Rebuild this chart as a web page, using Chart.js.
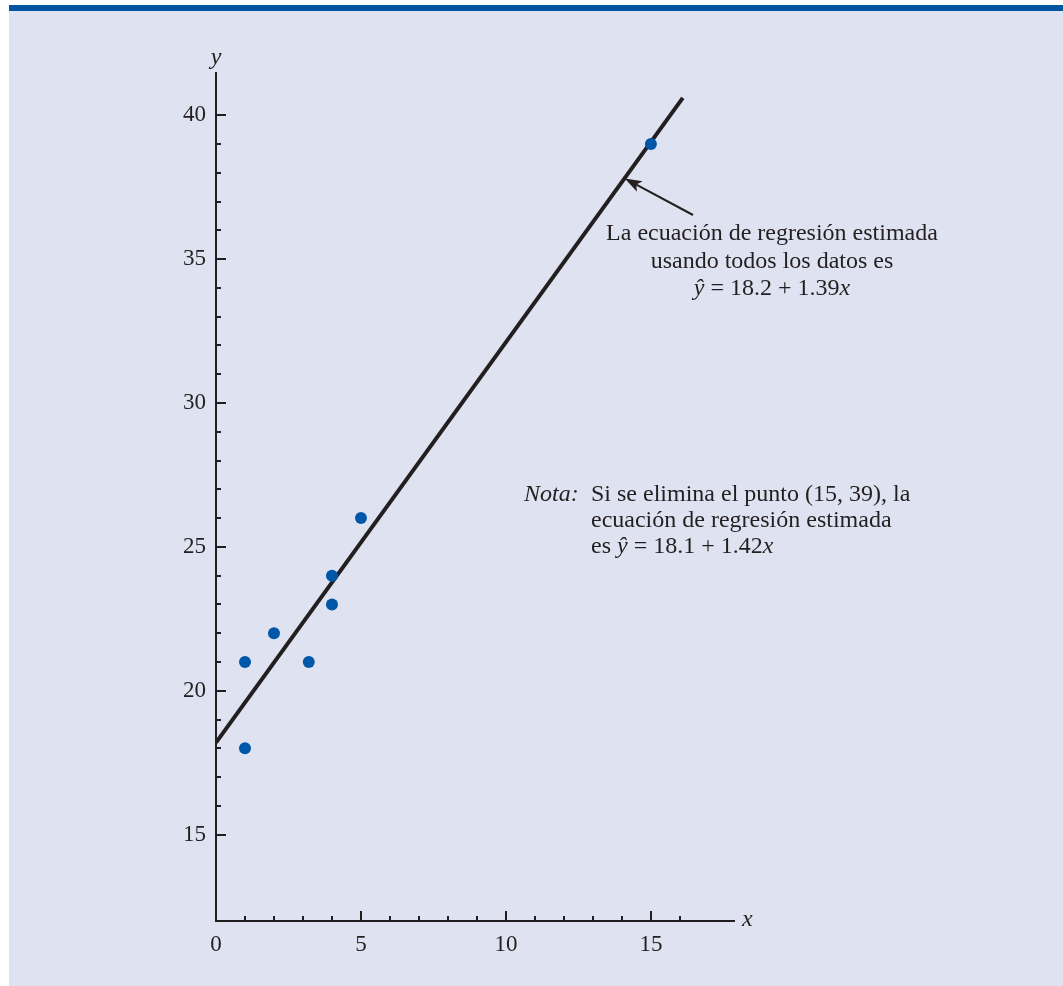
<!DOCTYPE html>
<html>
<head>
<meta charset="utf-8">
<script src="https://cdn.jsdelivr.net/npm/chart.js@4/dist/chart.umd.min.js"></script>
<style>
  html, body { margin: 0; padding: 0; background: #ffffff; }
  canvas { display: block; }
</style>
</head>
<body>
<canvas id="c" width="1063" height="986"></canvas>
<script>
// ---- data ----
const pointX = [1, 1, 2, 3.2, 4, 4, 5, 15];
const pointY = [21, 18, 22, 21, 24, 23, 26, 39];
const lineX = [0, 16.1];
const lineY = [18.2, 40.6];
const xTickValues = [0,1,2,3,4,5,6,7,8,9,10,11,12,13,14,15,16];
const yTickValues = [15,16,17,18,19,20,21,22,23,24,25,26,27,28,29,30,31,32,33,34,35,36,37,38,39,40];
const xLabeled = [0, 5, 10, 15];
const yLabeled = [15, 20, 25, 30, 35, 40];
const noteTop = ['La ecuación de regresión estimada', 'usando todos los datos es'];
const eqAll = ['ŷ', ' = 18.2 + 1.39', 'x'];
const noteBottom = ['Si se elimina el punto (15, 39), la', 'ecuación de regresión estimada'];
const eqNoOutlier = ['es ', 'ŷ', ' = 18.1 + 1.42', 'x'];

const INK = '#231f20';
const SERIF = '"Liberation Serif", "Times New Roman", serif';

const bgPlugin = {
  id: 'bg',
  beforeDraw(chart) {
    const ctx = chart.ctx;
    ctx.save();
    ctx.fillStyle = '#ffffff';
    ctx.fillRect(0, 0, chart.width, chart.height);
    ctx.fillStyle = '#dfe2f0';
    ctx.fillRect(9, 11, chart.width - 9, chart.height - 11);
    ctx.fillStyle = '#0055a1';
    ctx.fillRect(9, 5, chart.width - 9, 6);
    ctx.restore();
  }
};

function drawRich(ctx, segs, x, y, align) {
  const widths = segs.map(s => { ctx.font = (s.it ? 'italic ' : '') + '24px ' + SERIF; return ctx.measureText(s.t).width; });
  const total = widths.reduce((a, b) => a + b, 0);
  let cx = align === 'center' ? x - total / 2 : x;
  ctx.textAlign = 'left';
  ctx.textBaseline = 'alphabetic';
  segs.forEach((s, i) => {
    ctx.font = (s.it ? 'italic ' : '') + '24px ' + SERIF;
    ctx.fillText(s.t, cx, y);
    cx += widths[i];
  });
}

const axesPlugin = {
  id: 'axesInk',
  afterDatasetsDraw(chart) {
    const ctx = chart.ctx;
    const xs = chart.scales.x, ys = chart.scales.y;
    const a = chart.chartArea;
    ctx.save();
    ctx.strokeStyle = INK;
    ctx.fillStyle = INK;
    ctx.lineWidth = 2;
    ctx.beginPath();
    ctx.moveTo(a.left, a.top);
    ctx.lineTo(a.left, a.bottom);
    ctx.lineTo(a.right, a.bottom);
    ctx.stroke();
    yTickValues.forEach(v => {
      const py = Math.round(ys.getPixelForValue(v));
      const len = yLabeled.includes(v) ? 10 : 5;
      ctx.beginPath();
      ctx.moveTo(a.left, py);
      ctx.lineTo(a.left + len, py);
      ctx.stroke();
    });
    xTickValues.forEach(v => {
      if (v === 0) return;
      const px = Math.round(xs.getPixelForValue(v));
      const len = xLabeled.includes(v) ? 10 : 5;
      ctx.beginPath();
      ctx.moveTo(px, a.bottom);
      ctx.lineTo(px, a.bottom - len);
      ctx.stroke();
    });
    ctx.font = 'italic 24px ' + SERIF;
    ctx.textAlign = 'center';
    ctx.textBaseline = 'middle';
    ctx.fillText('y', a.left, a.top - 14);
    ctx.textAlign = 'left';
    ctx.fillText('x', a.right + 7, a.bottom - 1);

    // arrow pointing to regression line
    const tipX = xs.getPixelForValue(14.1), tipY = ys.getPixelForValue(37.8);
    const tailX = 693, tailY = 215;
    const ang = Math.atan2(tipY - tailY, tipX - tailX);
    const c = Math.cos(ang), s = Math.sin(ang);
    ctx.lineWidth = 2;
    ctx.beginPath();
    ctx.moveTo(tailX, tailY);
    ctx.lineTo(tipX - 12 * c, tipY - 12 * s);
    ctx.stroke();
    ctx.beginPath();
    ctx.moveTo(tipX, tipY);
    ctx.lineTo(tipX - 17 * c + 6 * s, tipY - 17 * s - 6 * c);
    ctx.lineTo(tipX - 13 * c, tipY - 13 * s);
    ctx.lineTo(tipX - 17 * c - 6 * s, tipY - 17 * s + 6 * c);
    ctx.closePath();
    ctx.fill();

    drawRich(ctx, [{t: noteTop[0]}], 772, 240, 'center');
    drawRich(ctx, [{t: noteTop[1]}], 772, 268, 'center');
    drawRich(ctx, [{t: eqAll[0], it: true}, {t: eqAll[1]}, {t: eqAll[2], it: true}], 772, 295, 'center');

    drawRich(ctx, [{t: 'Nota:', it: true}], 524, 501, 'left');
    drawRich(ctx, [{t: noteBottom[0]}], 591, 501, 'left');
    drawRich(ctx, [{t: noteBottom[1]}], 591, 527, 'left');
    drawRich(ctx, [{t: eqNoOutlier[0]}, {t: eqNoOutlier[1], it: true}, {t: eqNoOutlier[2]}, {t: eqNoOutlier[3], it: true}], 591, 553, 'left');
    ctx.restore();
  }
};

const ctx = document.getElementById('c').getContext('2d');
new Chart(ctx, {
  type: 'scatter',
  data: {
    datasets: [
      {
        label: 'Datos',
        data: pointX.map((x, i) => ({x, y: pointY[i]})),
        backgroundColor: '#0057a8',
        borderColor: '#0057a8',
        pointRadius: 6,
        pointHoverRadius: 6,
        borderWidth: 0
      },
      {
        type: 'line',
        label: 'Regresión',
        data: lineX.map((x, i) => ({x, y: lineY[i]})),
        borderColor: INK,
        borderWidth: 4,
        pointRadius: 0,
        fill: false,
        tension: 0,
        borderCapStyle: 'butt'
      }
    ]
  },
  options: {
    responsive: false,
    animation: false,
    devicePixelRatio: 1,
    layout: { padding: { top: 72, right: 328, left: 0, bottom: 0 } },
    plugins: { legend: { display: false }, tooltip: { enabled: false } },
    scales: {
      x: {
        type: 'linear',
        min: 0, max: 17.9,
        grid: { display: false, drawTicks: false },
        border: { display: false },
        afterBuildTicks: s => { s.ticks = xTickValues.map(v => ({value: v})); },
        afterFit: s => { s.height = 65; },
        ticks: {
          autoSkip: false, maxRotation: 0, padding: 10,
          color: INK,
          font: { family: SERIF, size: 23 },
          callback: v => xLabeled.includes(v) ? String(v) : ''
        }
      },
      y: {
        type: 'linear',
        min: 12, max: 41.5,
        grid: { display: false, drawTicks: false },
        border: { display: false },
        afterBuildTicks: s => { s.ticks = yTickValues.map(v => ({value: v})); },
        afterFit: s => { s.width = 216; },
        ticks: {
          autoSkip: false, padding: 10,
          color: INK,
          font: { family: SERIF, size: 23 },
          callback: v => yLabeled.includes(v) ? String(v) : ''
        }
      }
    }
  },
  plugins: [bgPlugin, axesPlugin]
});
</script>
</body>
</html>
